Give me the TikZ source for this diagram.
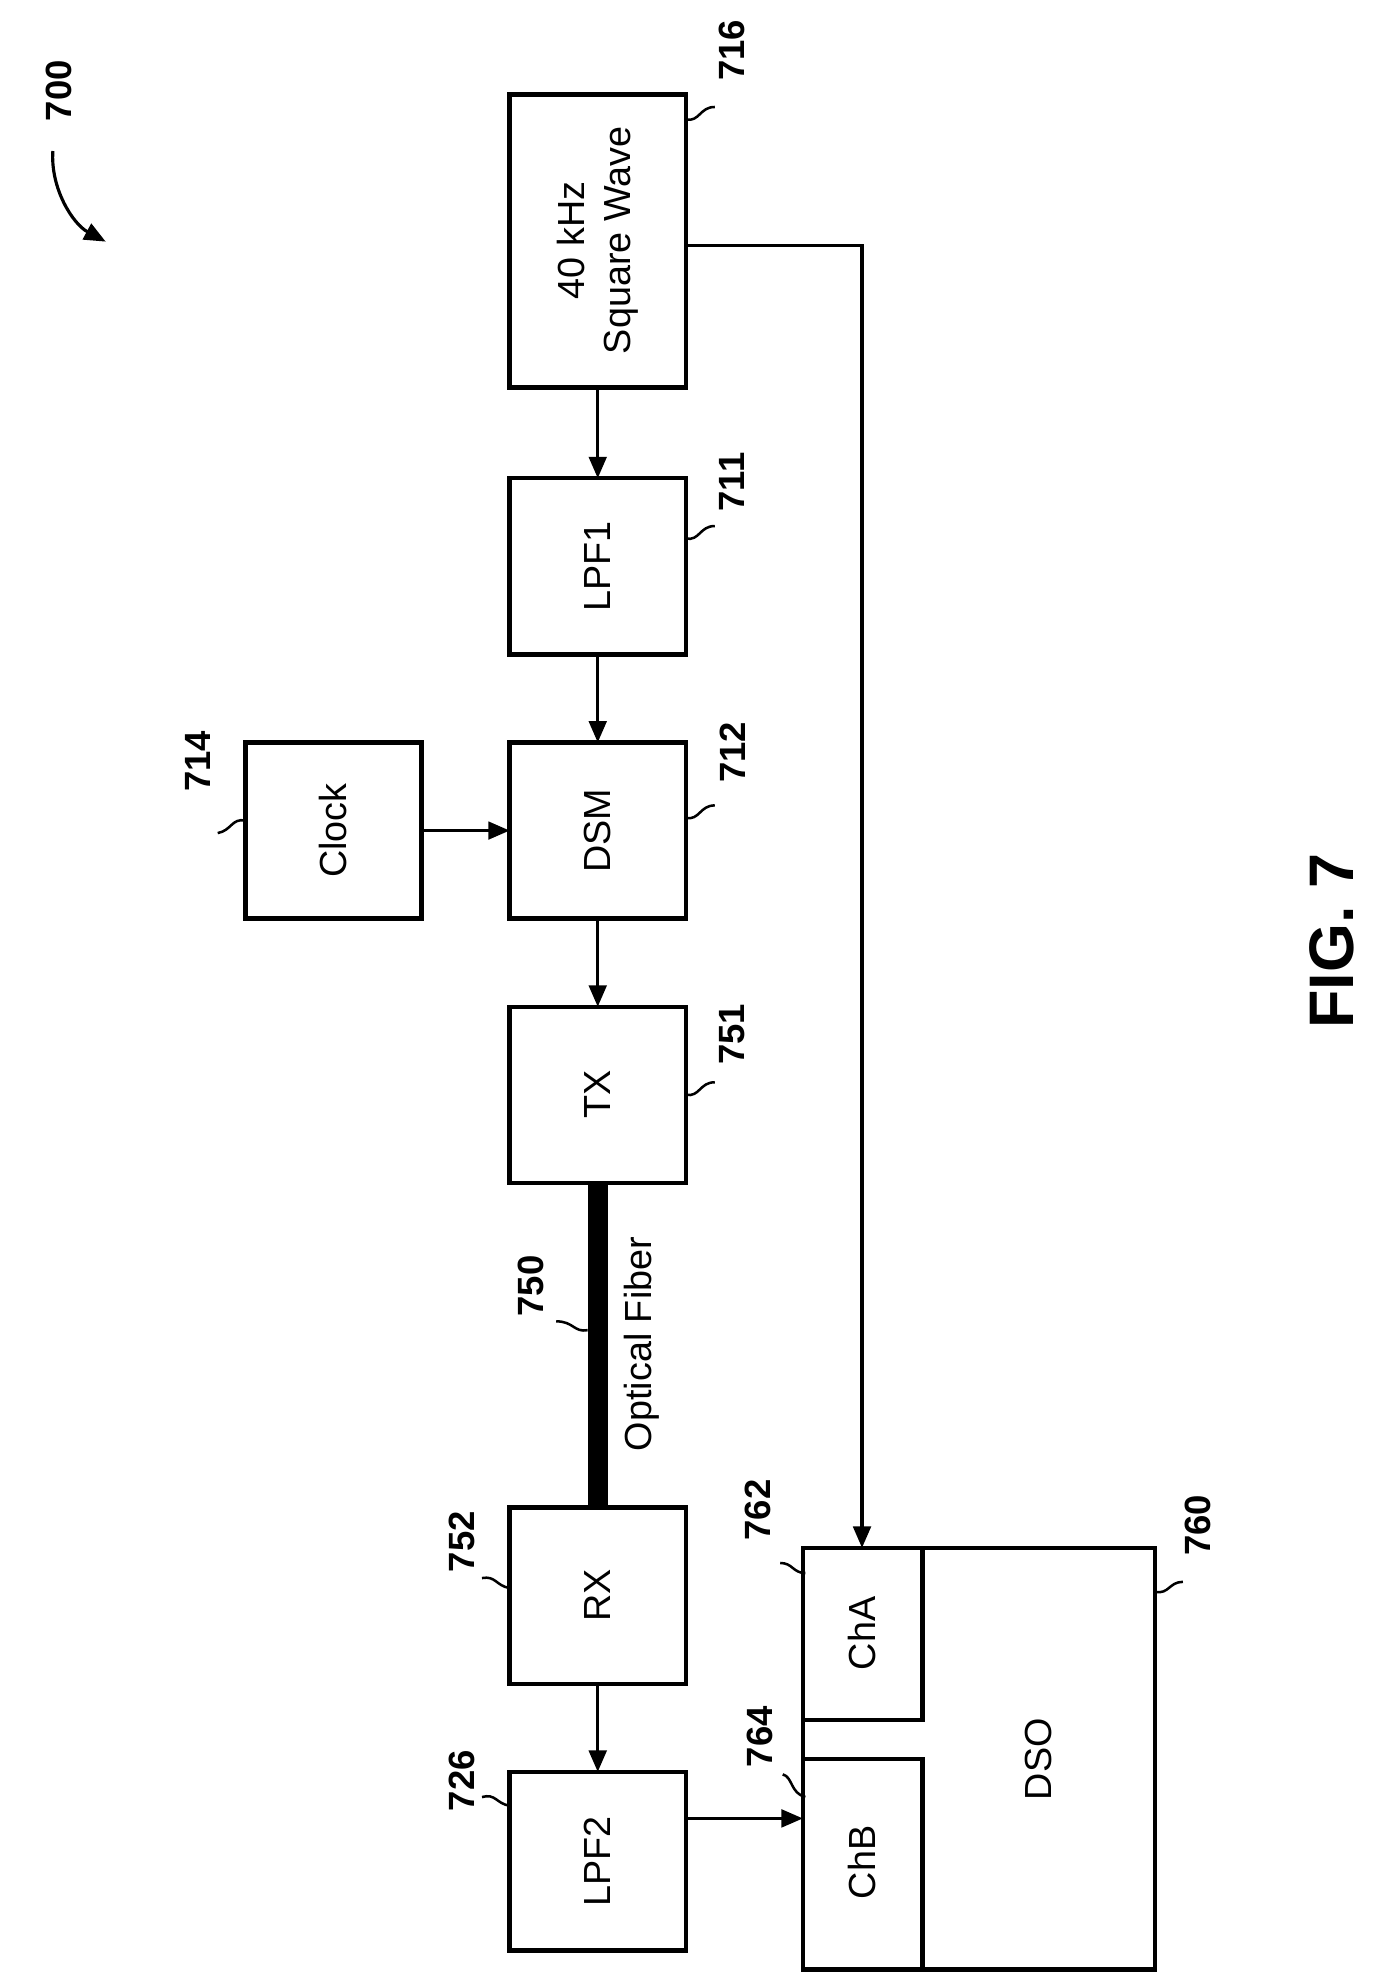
\documentclass[tikz,border=0pt]{standalone}
\usepackage{fontspec}
\setmainfont{Liberation Sans}
\usetikzlibrary{arrows.meta}
\begin{document}
\begin{tikzpicture}[x=1pt,y=-1pt,
  box/.style={draw,line width=3.5pt,fill=none},
  txt/.style={rotate=90,font=\fontsize{30}{36}\selectfont,align=center},
  num/.style={rotate=90,font=\bfseries\fontsize{29}{34}\selectfont},
  arr/.style={line width=2.5pt,-{Triangle[length=17pt,width=14pt]}},
  lead/.style={line width=2pt}]
\useasboundingbox (0,0) rectangle (1100,1575);
\draw[box] (405,75) rectangle (545,308); \node[txt] (sq) at (475,191) {40 kHz\\Square Wave};
\draw[box] (405,380) rectangle (545,520); \node[txt] (lpf1) at (475,450) {LPF1};
\draw[box] (405,590) rectangle (545,730); \node[txt] (dsm) at (475,660) {DSM};
\draw[box] (195,590) rectangle (335,730); \node[txt] (clk) at (265,660) {Clock};
\draw[box] (405,800) rectangle (545,940); \node[txt] (tx) at (475,870) {TX};
\draw[box] (405,1198) rectangle (545,1338); \node[txt] (rx) at (475,1268) {RX};
\draw[box] (405,1408) rectangle (545,1550); \node[txt] (lpf2) at (475,1479) {LPF2};
% DSO
\draw[box] (638,1230) rectangle (918,1565);
\draw[box] (733,1230) -- (733,1367) -- (638,1367);
\draw[box] (638,1398) -- (733,1398) -- (733,1565);
\node[txt] (cha) at (685,1298) {ChA};
\node[txt] (chb) at (685,1480) {ChB};
\node[txt] (dso) at (825,1398) {DSO};
% arrows
\coordinate (a1) at (475,308); \coordinate (a2) at (475,380);
\draw[arr] (a1) -- (a2);
\coordinate (b1) at (475,520); \coordinate (b2) at (475,590);
\draw[arr] (b1) -- (b2);
\coordinate (c1) at (475,730); \coordinate (c2) at (475,800);
\draw[arr] (c1) -- (c2);
\coordinate (d1) at (335,660); \coordinate (d2) at (405,660);
\draw[arr] (d1) -- (d2);
\coordinate (e1) at (475,1338); \coordinate (e2) at (475,1408);
\draw[arr] (e1) -- (e2);
\coordinate (f1) at (545,1445); \coordinate (f2) at (638,1445);
\draw[arr] (f1) -- (f2);
\coordinate (g1) at (545,195); \coordinate (g2) at (685,1230);
\draw[arr] (g1) -| (g2);
% fiber
\fill (467,940) rectangle (483,1198);
\node[txt] (of) at (510,1068) {Optical Fiber};
% labels
\node[num] (n716) at (582,40) {716};
\draw[lead] (545,95) .. controls (556,97) and (556,85) .. (568,85);
\node[num] (n711) at (582,383) {711};
\draw[lead] (545,428) .. controls (556,430) and (556,418) .. (568,418);
\node[num] (n712) at (582,598) {712};
\draw[lead] (545,650) .. controls (556,652) and (556,640) .. (568,640);
\node[num] (n751) at (582,822) {751};
\draw[lead] (545,870) .. controls (556,872) and (556,860) .. (568,860);
\node[num] (n714) at (157,605) {714};
\draw[lead] (195,652) .. controls (184,650) and (184,660) .. (173,662);
\node[num] (n752) at (367,1225) {752};
\draw[lead] (405,1262) .. controls (394,1260) and (394,1252) .. (383,1254);
\node[num] (n726) at (367,1415) {726};
\draw[lead] (405,1435) .. controls (394,1433) and (394,1425) .. (383,1428);
\node[num] (n762) at (602,1200) {762};
\draw[lead] (640,1250) .. controls (630,1250) and (630,1242) .. (620,1242);
\node[num] (n764) at (604,1380) {764};
\draw[lead] (640,1428) .. controls (628,1425) and (630,1412) .. (622,1410);
\node[num] (n760) at (952,1212) {760};
\draw[lead] (918,1265) .. controls (929,1267) and (929,1257) .. (940,1257);
\node[num] (n750) at (422,1022) {750};
\draw[lead] (467,1057) .. controls (456,1059) and (456,1050) .. (442,1050);
\node[num] (n700) at (47,72) {700};
\draw[line width=2.5pt,-{Triangle[length=17pt,width=14pt]}] (42,120) .. controls (40,150) and (58,178) .. (84,192);
\node[rotate=90,font=\bfseries\fontsize{50}{56}\selectfont] (fig) at (1058,748) {FIG. 7};
\end{tikzpicture}
\end{document}
